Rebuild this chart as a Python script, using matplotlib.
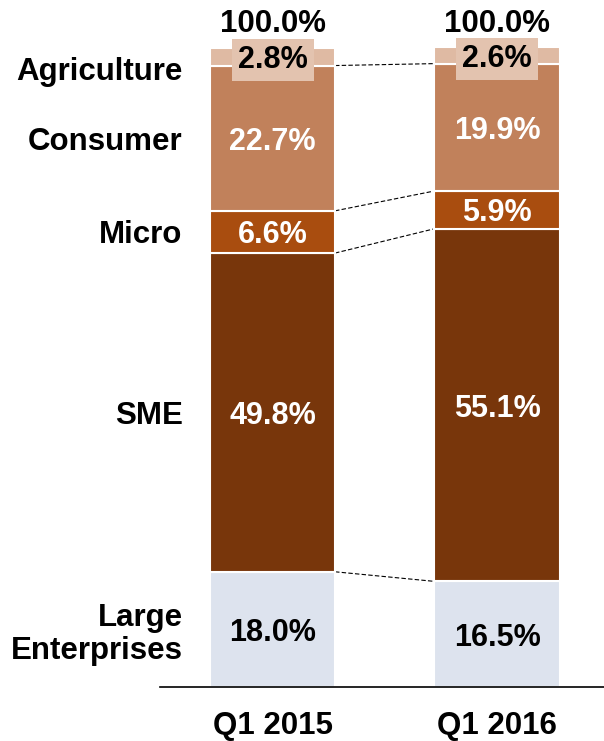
import matplotlib.pyplot as plt
import numpy as np

plt.rcParams['font.family'] = ['Liberation Sans', 'DejaVu Sans']

periods = ['Q1 2015', 'Q1 2016']
segments = ['Large\nEnterprises', 'SME', 'Micro', 'Consumer', 'Agriculture']
large = [18.0, 16.5]
sme = [49.8, 55.1]
micro = [6.6, 5.9]
consumer = [22.7, 19.9]
agriculture = [2.8, 2.6]
totals = ['100.0%', '100.0%']

colors = ['#dde3ee', '#78360b', '#a94d0f', '#c1815b', '#dfbaa3']
text_colors = ['black', 'white', 'white', 'white', 'black']

fig = plt.figure(figsize=(6.04, 7.41), dpi=100)
ax = fig.add_axes([0.265, 0.0729, 0.735, 0.8637])

x = np.arange(len(periods))
width = 0.557
series = [large, sme, micro, consumer, agriculture]
bottom = np.zeros(len(periods))
tops = []
for vals, col, tcol in zip(series, colors, text_colors):
    vals = np.array(vals)
    ax.bar(x, vals, width, bottom=bottom, color=col, edgecolor='white',
           linewidth=1.5, zorder=2)
    for xi, b, v in zip(x, bottom, vals):
        kw = {}
        if col == colors[-1]:
            kw['bbox'] = dict(boxstyle='square,pad=0.2', fc='#e3c3af', ec='none')
        ax.text(xi, b + v / 2, f'{v:.1f}%', ha='center', va='center_baseline',
                fontsize=22, fontweight='bold', color=tcol, zorder=3, **kw)
    bottom = bottom + vals
    tops.append(bottom.copy())

# dashed connectors between the two bars at each segment boundary
for t in tops[:-1]:
    ax.plot([x[0] + width / 2, x[1] - width / 2], [t[0], t[1]],
            color='black', linestyle=(0, (4, 2)), linewidth=0.8, zorder=1)

for xi, lbl in zip(x, totals):
    ax.text(xi, 104.1, lbl, ha='center', va='center_baseline', fontsize=22.5,
            fontweight='bold')

# segment names on the left, next to the first bar
label_y = [large[0] / 2, large[0] + sme[0] / 2,
           large[0] + sme[0] + micro[0] / 2,
           large[0] + sme[0] + micro[0] + consumer[0] / 2, 96.7]
for name, y in zip(segments, label_y):
    ax.text(-0.40, y, name, ha='right', va='center_baseline', fontsize=22.5,
            fontweight='bold', linespacing=1.15, clip_on=False)

ax.set_xlim(-0.501, 1.4766)
ax.set_ylim(0, 100)
ax.set_xticks(x)
ax.set_xticklabels(periods, fontsize=22.5, fontweight='bold')
ax.tick_params(axis='x', length=0, pad=17)
ax.set_yticks([])
for s in ['top', 'right', 'left']:
    ax.spines[s].set_visible(False)
ax.spines['bottom'].set_linewidth(1.2)
ax.spines['bottom'].set_zorder(4)

fig.savefig('out.png', dpi=100)
